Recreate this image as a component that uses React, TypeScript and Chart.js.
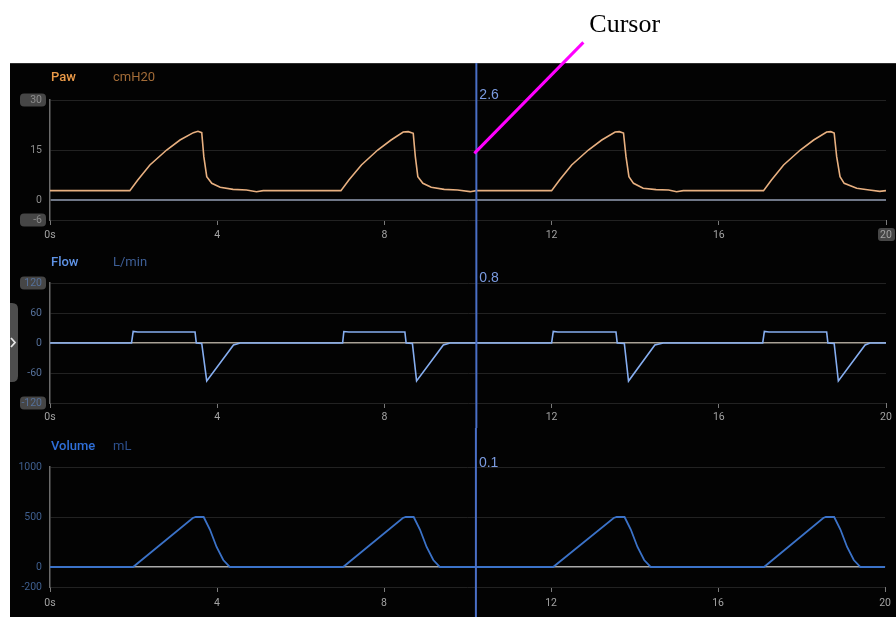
import React, { useEffect, useRef } from "react";
import { Chart, registerables } from "chart.js";

Chart.register(...registerables);

const FONT = 'Roboto, "Liberation Sans", sans-serif';

// ---- shared time axis ----
const timeTicks = [0, 4, 8, 12, 16, 20];
const timeTickLabels = ["0s", "4", "8", "12", "16", "20"];
const cursorTime = 10.2;
const cursorReadouts = ["2.6", "0.8", "0.1"];
const cursorMarkerValue = 14;

// ---- axis ticks ----
const pawTicks = [30, 15, 0, -6];
const flowTicks = [120, 60, 0, -60, -120];
const volumeTicks = [1000, 500, 0, -200];

// ---- Paw (cmH20) ----
const pawTime = [
  0, 1.91, 2.1, 2.39, 2.79, 3.11, 3.43, 3.54, 3.63, 3.68, 3.75, 3.87, 4.07, 4.38, 4.7, 4.94, 5.1,
  6.96, 7.15, 7.45, 7.84, 8.16, 8.45, 8.57, 8.69, 8.74, 8.8, 8.92, 9.12, 9.43, 9.75, 10.05, 10.2,
  12.0, 12.19, 12.48, 12.88, 13.2, 13.52, 13.62, 13.72, 13.78, 13.85, 13.96, 14.19, 14.5, 14.8, 14.99, 15.15,
  17.07, 17.26, 17.55, 17.95, 18.27, 18.58, 18.68, 18.76, 18.82, 18.9, 19.0, 19.3, 19.6, 19.85, 20.0,
];
const pawValue = [
  2.8, 2.8, 6, 10.5, 15, 18, 20.2, 20.6, 20.2, 13, 7, 5, 3.8, 3.2, 3.0, 2.5, 2.8,
  2.8, 6, 10.5, 15, 18, 20.4, 20.5, 20, 13, 7, 5, 3.8, 3.2, 3.0, 2.5, 2.8,
  2.8, 6, 10.5, 15, 18, 20.4, 20.5, 20.1, 13, 7, 5, 3.5, 3.1, 3.0, 2.5, 2.8,
  2.8, 6, 10.5, 15, 18, 20.4, 20.5, 20.1, 13, 7, 5, 3.5, 3.0, 2.6, 2.8,
];

// ---- Flow (L/min) ----
const flowTime = [
  0, 1.95, 1.99, 2.1, 3.47, 3.5, 3.63, 3.75, 4.39, 4.55,
  7.0, 7.03, 7.15, 8.49, 8.52, 8.67, 8.77, 9.41, 9.57,
  12.0, 12.04, 12.15, 13.54, 13.57, 13.74, 13.84, 14.47, 14.67,
  17.05, 17.09, 17.2, 18.58, 18.61, 18.76, 18.86, 19.5, 19.62, 20.0,
];
const flowValue = [
  0, 0, 23, 22, 22, 0, -1, -76, -4, 0,
  0, 23, 22, 22, 0, -1, -76, -4, 0,
  0, 23, 22, 22, 0, -1, -76, -4, 0,
  0, 23, 22, 22, 0, -1, -76, -4, 0, 0,
];

// ---- Volume (mL) ----
const volumeTime = [
  0, 1.99, 3.42, 3.49, 3.68, 3.83, 3.99, 4.15, 4.31,
  7.02, 8.45, 8.52, 8.71, 8.86, 9.02, 9.18, 9.34,
  12.05, 13.5, 13.57, 13.76, 13.91, 14.07, 14.23, 14.39,
  17.1, 18.52, 18.58, 18.78, 18.93, 19.09, 19.25, 19.41, 20.0,
];
const volumeValue = [
  0, 0, 490, 500, 500, 375, 200, 70, 0,
  0, 490, 500, 500, 375, 200, 70, 0,
  0, 490, 500, 500, 375, 200, 70, 0,
  0, 490, 500, 500, 375, 200, 70, 0, 0,
];

type PanelCfg = {
  top: number;
  height: number;
  padTop: number;
  xAxisH: number;
  xLabelPad: number;
  times: number[];
  values: number[];
  yTicks: number[];
  yMin: number;
  yMax: number;
  traceColor: string;
  traceWidth: number;
  zeroColor: string;
  zeroWidth: number;
  yLabelColor: string;
  title: string;
  unit: string;
  titleColor: string;
  unitColor: string;
  titleY: number;
  readout: string;
  readoutY: number;
  cursorTop: number;
  boxedY: number[];
  boxedX: number | null;
  tab: boolean;
  annotate: boolean;
};

function roundRect(ctx: CanvasRenderingContext2D, x: number, y: number, w: number, h: number, r: number) {
  ctx.beginPath();
  ctx.moveTo(x + r, y);
  ctx.lineTo(x + w - r, y);
  ctx.quadraticCurveTo(x + w, y, x + w, y + r);
  ctx.lineTo(x + w, y + h - r);
  ctx.quadraticCurveTo(x + w, y + h, x + w - r, y + h);
  ctx.lineTo(x + r, y + h);
  ctx.quadraticCurveTo(x, y + h, x, y + h - r);
  ctx.lineTo(x, y + r);
  ctx.quadraticCurveTo(x, y, x + r, y);
  ctx.closePath();
}

const panelDecor = {
  id: "panelDecor",
  beforeDraw(chart: any, _args: any, o: any) {
    const ctx: CanvasRenderingContext2D = chart.ctx;
    const ys = chart.scales.y;
    const xs = chart.scales.x;
    ctx.save();
    ctx.fillStyle = "#464646";
    for (const v of o.boxedY) {
      const py = ys.getPixelForValue(v);
      roundRect(ctx, 10, py - 6.5, 26, 13, 4);
      ctx.fill();
    }
    if (o.boxedX !== null && o.boxedX !== undefined) {
      const px = xs.getPixelForValue(o.boxedX);
      roundRect(ctx, px - 8, chart.chartArea.bottom + 8, 17, 13, 3);
      ctx.fill();
    }
    if (o.tab) {
      ctx.fillStyle = "#4d4d4d";
      roundRect(ctx, -8, 58, 16, 79, 6);
      ctx.fill();
      ctx.strokeStyle = "#e6e6e6";
      ctx.lineWidth = 1.8;
      ctx.beginPath();
      ctx.moveTo(1, 93);
      ctx.lineTo(5, 97.5);
      ctx.lineTo(1, 102);
      ctx.stroke();
    }
    ctx.textBaseline = "middle";
    ctx.textAlign = "left";
    ctx.font = `500 13px ${FONT}`;
    ctx.fillStyle = o.titleColor;
    ctx.fillText(o.title, 41, o.titleY);
    ctx.font = `13px ${FONT}`;
    ctx.fillStyle = o.unitColor;
    ctx.fillText(o.unit, 103, o.titleY);
    ctx.restore();
  },
  afterDatasetsDraw(chart: any, _args: any, o: any) {
    const ctx: CanvasRenderingContext2D = chart.ctx;
    const xs = chart.scales.x;
    const ys = chart.scales.y;
    const px = xs.getPixelForValue(o.cursorTime);
    ctx.save();
    ctx.strokeStyle = "#4a6fc6";
    ctx.lineWidth = 2;
    ctx.beginPath();
    ctx.moveTo(px, o.cursorTop);
    ctx.lineTo(px, chart.height);
    ctx.stroke();
    ctx.fillStyle = "#7b9be0";
    ctx.font = '14px "Liberation Sans", Arial, sans-serif';
    ctx.textBaseline = "middle";
    ctx.textAlign = "left";
    ctx.fillText(o.readout, px + 3, o.readoutY);
    if (o.annotate) {
      const ex = px - 2;
      const ey = ys.getPixelForValue(o.markerValue);
      ctx.strokeStyle = "#ff00ff";
      ctx.lineWidth = 3;
      ctx.beginPath();
      ctx.moveTo(ex + 109, ey - 111);
      ctx.lineTo(ex, ey);
      ctx.stroke();
      ctx.fillStyle = "#000";
      ctx.font = '26px "Liberation Serif", "Times New Roman", serif';
      ctx.textBaseline = "alphabetic";
      ctx.fillText("Cursor", ex + 115, ey - 121);
    }
    ctx.restore();
  },
};

function WavePanel({ cfg }: { cfg: PanelCfg }) {
  const ref = useRef<HTMLCanvasElement>(null);
  useEffect(() => {
    const canvas = ref.current as HTMLCanvasElement;
    const chart = new Chart(canvas, {
      type: "line",
      data: {
        datasets: [
          {
            data: cfg.times.map((t, i) => ({ x: t, y: cfg.values[i] })),
            borderColor: cfg.traceColor,
            borderWidth: cfg.traceWidth,
            pointRadius: 0,
            tension: 0,
            fill: false,
          },
        ],
      },
      options: {
        responsive: false,
        animation: false,
        devicePixelRatio: 1,
        layout: { padding: { top: cfg.padTop, right: 10, left: 0, bottom: 0 } },
        plugins: {
          legend: { display: false },
          tooltip: { enabled: false },
          title: { display: false },
          panelDecor: {
            boxedY: cfg.boxedY,
            boxedX: cfg.boxedX,
            tab: cfg.tab,
            title: cfg.title,
            unit: cfg.unit,
            titleColor: cfg.titleColor,
            unitColor: cfg.unitColor,
            titleY: cfg.titleY,
            readout: cfg.readout,
            readoutY: cfg.readoutY,
            cursorTop: cfg.cursorTop,
            cursorTime: cursorTime,
            annotate: cfg.annotate,
            markerValue: cursorMarkerValue,
          },
        } as any,
        scales: {
          x: {
            type: "linear",
            min: 0,
            max: 20,
            afterBuildTicks: (s: any) => {
              s.ticks = timeTicks.map((v) => ({ value: v }));
            },
            afterFit: (s: any) => {
              s.height = cfg.xAxisH;
            },
            ticks: {
              color: "#a3a3a3",
              font: { family: FONT, size: 10.5 },
              padding: cfg.xLabelPad,
              maxRotation: 0,
              autoSkip: false,
              callback: (_v: any, i: number) => timeTickLabels[i],
            },
            grid: { drawOnChartArea: false, drawTicks: true, tickLength: 5, color: "#7a7a7a" },
            border: { display: false },
          },
          y: {
            type: "linear",
            min: cfg.yMin,
            max: cfg.yMax,
            afterBuildTicks: (s: any) => {
              s.ticks = cfg.yTicks.map((v) => ({ value: v }));
            },
            afterFit: (s: any) => {
              s.width = 40;
            },
            ticks: {
              color: cfg.yLabelColor,
              font: { family: FONT, size: 10.5 },
              padding: 8,
              autoSkip: false,
              callback: (v: any) => String(v),
            },
            grid: {
              drawTicks: false,
              color: (c: any) => (c.tick && c.tick.value === 0 ? cfg.zeroColor : "#222222"),
              lineWidth: (c: any) => (c.tick && c.tick.value === 0 ? cfg.zeroWidth : 1),
            },
            border: { display: true, color: "#6b6b6b", width: 1.5 },
          },
        },
      } as any,
      plugins: [panelDecor as any],
    });
    return () => chart.destroy();
  }, []);
  return (
    <canvas
      ref={ref}
      width={886}
      height={cfg.height}
      style={{ position: "absolute", left: 10, top: cfg.top, width: 886, height: cfg.height }}
    />
  );
}

const pawPanel: PanelCfg = {
  top: 0, height: 245, padTop: 100, xAxisH: 25, xLabelPad: 4,
  times: pawTime, values: pawValue, yTicks: pawTicks, yMin: -6, yMax: 30,
  traceColor: "#e8b080", traceWidth: 1.6, zeroColor: "#6f7787", zeroWidth: 2, yLabelColor: "#8c8c8c",
  title: "Paw", unit: "cmH20", titleColor: "#eb9a48", unitColor: "#a36c38", titleY: 78,
  readout: cursorReadouts[0], readoutY: 95, cursorTop: 63,
  boxedY: [30, -6], boxedX: 20, tab: false, annotate: true,
};

const flowPanel: PanelCfg = {
  top: 245, height: 183, padTop: 38, xAxisH: 25, xLabelPad: 3,
  times: flowTime, values: flowValue, yTicks: flowTicks, yMin: -120, yMax: 120,
  traceColor: "#86aef0", traceWidth: 1.6, zeroColor: "#a8a196", zeroWidth: 1.5, yLabelColor: "#55709a",
  title: "Flow", unit: "L/min", titleColor: "#5f93e6", unitColor: "#3e5f97", titleY: 18,
  readout: cursorReadouts[1], readoutY: 33, cursorTop: 0,
  boxedY: [120, -120], boxedX: null, tab: true, annotate: false,
};

const volumePanel: PanelCfg = {
  top: 428, height: 189, padTop: 39, xAxisH: 30, xLabelPad: 5,
  times: volumeTime, values: volumeValue, yTicks: volumeTicks, yMin: -200, yMax: 1000,
  traceColor: "#3b72c8", traceWidth: 1.8, zeroColor: "#a9a9a9", zeroWidth: 1.5, yLabelColor: "#3f5f8f",
  title: "Volume", unit: "mL", titleColor: "#2f6fd8", unitColor: "#2c4f8c", titleY: 19,
  readout: cursorReadouts[2], readoutY: 35, cursorTop: 0,
  boxedY: [], boxedX: null, tab: false, annotate: false,
};

export default function App() {
  return (
    <div
      style={{
        position: "absolute",
        left: 0,
        top: 0,
        width: 896,
        height: 617,
        background: "#ffffff",
        overflow: "hidden",
      }}
    >
      <div
        style={{
          position: "absolute",
          left: 10,
          top: 63,
          width: 886,
          height: 554,
          background: "#030303",
          borderTop: "1px solid #2e2e2e",
          boxSizing: "border-box",
        }}
      />
      <WavePanel cfg={pawPanel} />
      <WavePanel cfg={flowPanel} />
      <WavePanel cfg={volumePanel} />
    </div>
  );
}
